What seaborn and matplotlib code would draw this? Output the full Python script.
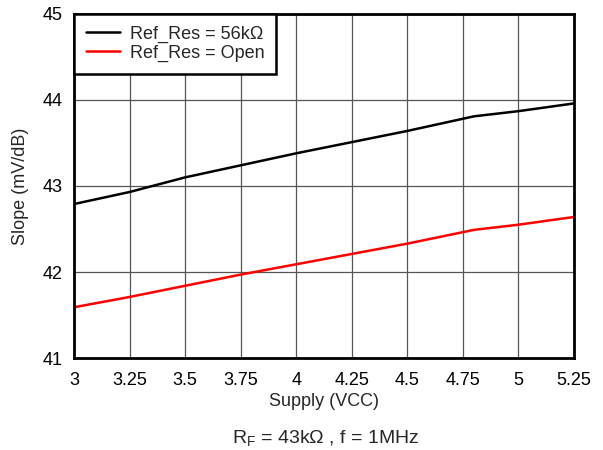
import numpy as np
import pandas as pd
import matplotlib
matplotlib.use("Agg")
import matplotlib.pyplot as plt
import seaborn as sns

# ========== Data ==========

supply = [3.0, 3.25, 3.5, 3.75, 4.0, 4.25, 4.5, 4.8, 5.0, 5.25]
slope_56k = [42.79, 42.93, 43.10, 43.24, 43.38, 43.51, 43.64, 43.81, 43.87, 43.96]
slope_open = [41.59, 41.71, 41.84, 41.97, 42.09, 42.21, 42.33, 42.49, 42.55, 42.64]
series_names = ["Ref_Res = 56k\u03a9", "Ref_Res = Open"]
x_ticks = [3, 3.25, 3.5, 3.75, 4, 4.25, 4.5, 4.75, 5, 5.25]
x_tick_labels = ["3", "3.25", "3.5", "3.75", "4", "4.25", "4.5", "4.75", "5", "5.25"]
y_ticks = [41, 42, 43, 44, 45]

df = pd.DataFrame({
    "supply": supply * 2,
    "slope": slope_56k + slope_open,
    "series": [series_names[0]] * len(supply) + [series_names[1]] * len(supply),
})

# ========== Plot ==========

sns.set_style("white")
plt.rcParams["font.family"] = ["Liberation Sans", "DejaVu Sans"]

fig = plt.figure(figsize=(6.03, 4.5), dpi=100)
ax = fig.add_axes([0.1227, 0.2044, 0.8293, 0.7646])

sns.lineplot(data=df, x="supply", y="slope", hue="series",
             palette=["black", "red"], linewidth=1.8, ax=ax)

ax.set_xlim(3, 5.25)
ax.set_ylim(41, 45)
ax.set_xticks(x_ticks)
ax.set_xticklabels(x_tick_labels)
ax.set_yticks(y_ticks)
ax.tick_params(labelsize=13, length=0, colors="black")
ax.tick_params(axis="x", pad=10)
ax.tick_params(axis="y", pad=8)
ax.grid(True, color="#555555", linewidth=0.9)
for s in ax.spines.values():
    s.set_color("black")
    s.set_linewidth(2)
    s.set_visible(True)

ax.set_xlabel("Supply (VCC)", fontsize=13, labelpad=3)
ax.set_ylabel("Slope (mV/dB)", fontsize=13, labelpad=10)

leg = ax.legend(loc="upper left", fontsize=13, frameon=True, fancybox=False,
                borderaxespad=0, handlelength=1.9, handletextpad=0.55,
                borderpad=0.65, labelspacing=0.1)
leg.get_frame().set_edgecolor("black")
leg.get_frame().set_linewidth(1.8)
leg.get_frame().set_alpha(1)

fig.text(0.54, 0.025, r"R$_\mathregular{F}$ = 43k$\mathregular{\Omega}$ , f = 1MHz",
         ha="center", va="center", fontsize=14)

fig.savefig("out.png", dpi=100)
